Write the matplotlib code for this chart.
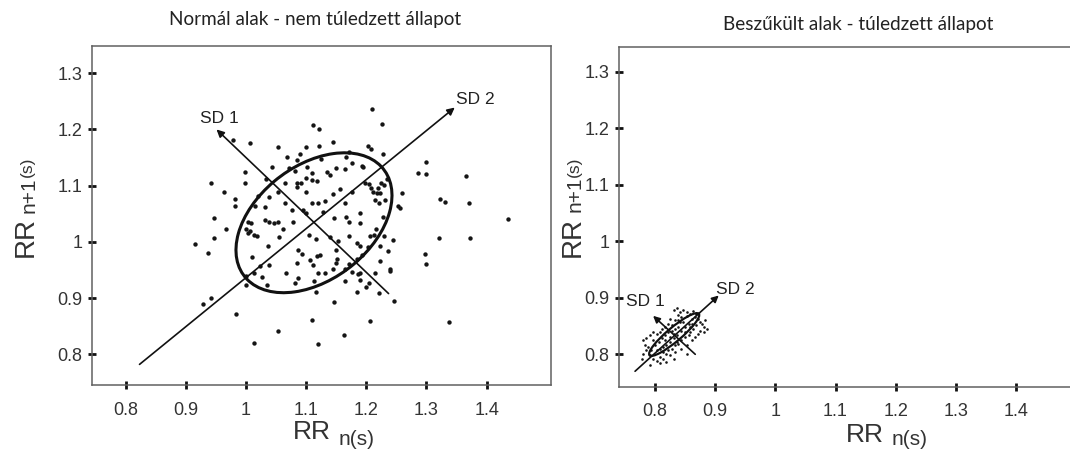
import matplotlib
matplotlib.use("Agg")
import matplotlib.pyplot as plt
from matplotlib.patches import Ellipse

# Poincare plot, normal state (left panel)
normal_x = [
    1.209, 1.111, 1.121, 1.226, 0.979, 1.007, 1.144, 1.054, 1.100, 1.122, 1.203, 1.207, 1.171,
    1.227, 1.300, 1.300, 0.998, 0.998, 0.942, 0.963, 0.981, 0.981, 1.286, 1.365, 1.322, 1.331,
    1.371, 1.435, 1.320, 1.373, 1.297, 1.300, 0.946, 0.966, 0.946, 0.915, 0.937, 0.928, 0.942,
    0.984, 1.013, 1.053, 1.110, 1.120, 1.163, 1.206, 1.338, 1.146, 1.246, 1.185, 1.221, 1.199,
    1.116, 1.259, 1.253, 1.256, 1.245, 1.236, 1.239, 1.239, 1.222, 1.187, 1.190,
    1.068, 1.089, 1.084, 1.102, 1.109, 1.100, 1.125, 1.135, 1.139, 1.150, 1.164, 1.177, 1.192,
    1.195, 1.166, 1.043, 1.071, 1.082, 1.065, 1.053, 1.038, 1.032, 1.064, 1.085, 1.092, 1.085,
    1.100, 1.110, 1.119, 1.131, 1.144, 1.118, 1.110, 1.157, 1.165, 1.176, 1.198, 1.205, 1.208,
    1.211, 1.219, 1.218, 1.225, 1.229, 1.234, 1.222, 1.231, 1.215, 1.221, 1.077, 1.094, 1.100,
    1.128, 1.147, 1.167, 1.189, 1.171, 1.190, 1.216, 1.212, 1.206, 1.185, 1.171, 1.153, 1.139,
    1.117, 1.105, 1.003, 1.008, 1.000, 1.003, 1.007, 1.014, 1.019, 1.032, 1.038, 1.046, 1.054,
    1.036, 1.055, 1.078, 1.061, 1.010, 1.024, 1.038, 1.014, 1.027, 1.035, 1.000, 1.000, 1.067,
    1.082, 1.086, 1.085, 1.087, 1.093, 1.107, 1.112, 1.118, 1.123, 1.119, 1.113, 1.132, 1.144,
    1.150, 1.151, 1.150, 1.165, 1.172, 1.193, 1.190, 1.202, 1.184, 1.165, 1.177, 1.190, 1.205,
    1.214, 1.222, 1.229, 1.228, 1.020, 1.015, 1.034,
]
normal_y = [
    1.237, 1.208, 1.200, 1.209, 1.182, 1.175, 1.177, 1.169, 1.169, 1.171, 1.171, 1.166, 1.159,
    1.157, 1.142, 1.120, 1.125, 1.104, 1.104, 1.088, 1.077, 1.063, 1.122, 1.117, 1.076, 1.071,
    1.070, 1.041, 1.006, 1.006, 0.979, 0.961, 1.043, 1.022, 1.006, 0.997, 0.981, 0.890, 0.900,
    0.871, 0.820, 0.841, 0.861, 0.818, 0.834, 0.860, 0.858, 0.893, 0.895, 0.910, 0.909, 0.920,
    0.911, 1.087, 1.063, 1.060, 1.003, 0.983, 0.951, 0.948, 0.966, 0.942, 0.933,
    1.151, 1.157, 1.145, 1.133, 1.122, 1.114, 1.148, 1.125, 1.119, 1.131, 1.130, 1.140, 1.135,
    1.134, 1.151, 1.134, 1.131, 1.126, 1.105, 1.088, 1.079, 1.062, 1.069, 1.105, 1.105, 1.098,
    1.088, 1.069, 1.070, 1.072, 1.086, 1.108, 1.110, 1.094, 1.069, 1.088, 1.105, 1.103, 1.095,
    1.088, 1.095, 1.087, 1.105, 1.102, 1.112, 1.087, 1.075, 1.075, 1.069, 1.057, 1.056, 1.051,
    1.054, 1.042, 1.045, 1.051, 1.036, 1.034, 1.023, 1.013, 1.010, 0.998, 1.010, 1.001, 1.009,
    1.005, 1.013, 1.036, 1.034, 1.022, 1.016, 1.019, 1.013, 1.010, 1.039, 1.036, 1.033, 1.035,
    0.992, 1.008, 1.035, 1.022, 0.973, 0.957, 0.959, 0.945, 0.938, 0.924, 0.924, 0.939, 0.944,
    0.926, 0.935, 0.963, 0.985, 0.979, 0.967, 0.959, 0.974, 0.977, 0.944, 0.930, 0.945, 0.952,
    0.963, 0.969, 0.986, 0.951, 0.961, 0.976, 0.992, 0.991, 0.969, 0.930, 0.947, 0.945, 0.927,
    0.945, 0.992, 1.010, 1.045, 1.081, 1.063, 1.111,
]

# Poincare plot, overtrained state (right panel)
over_x = [
    0.831, 0.836, 0.842, 0.847, 0.853, 0.858, 0.864, 0.839, 0.844, 0.853, 0.867, 0.872, 0.875,
    0.878, 0.881, 0.869, 0.861, 0.883, 0.886, 0.875, 0.864, 0.858, 0.850, 0.842, 0.833, 0.825,
    0.822, 0.828, 0.817, 0.811, 0.808, 0.803, 0.797, 0.792, 0.786, 0.781, 0.783, 0.789, 0.794,
    0.792, 0.797, 0.803, 0.808, 0.814, 0.819, 0.822, 0.828, 0.833, 0.839, 0.844, 0.850, 0.856,
    0.836, 0.831, 0.825, 0.819, 0.814, 0.808, 0.806, 0.811, 0.817, 0.822, 0.828, 0.833, 0.839,
    0.844, 0.850, 0.825, 0.831, 0.817, 0.800, 0.797, 0.803, 0.814, 0.825, 0.833, 0.786, 0.781,
    0.844, 0.853, 0.861, 0.867, 0.872, 0.881, 0.861, 0.856, 0.869, 0.839, 0.847, 0.858, 0.836,
    0.819, 0.808, 0.831, 0.853, 0.792, 0.778,
]
over_y = [
    0.878, 0.881, 0.875, 0.879, 0.875, 0.872, 0.876, 0.869, 0.866, 0.868, 0.866, 0.863, 0.857,
    0.854, 0.848, 0.851, 0.854, 0.860, 0.845, 0.842, 0.845, 0.839, 0.848, 0.857, 0.860, 0.863,
    0.854, 0.851, 0.848, 0.845, 0.839, 0.836, 0.839, 0.834, 0.828, 0.825, 0.816, 0.813, 0.807,
    0.798, 0.792, 0.789, 0.795, 0.792, 0.801, 0.807, 0.810, 0.816, 0.819, 0.825, 0.831, 0.834,
    0.834, 0.828, 0.822, 0.816, 0.813, 0.810, 0.822, 0.828, 0.834, 0.839, 0.842, 0.845, 0.848,
    0.842, 0.839, 0.831, 0.836, 0.825, 0.816, 0.825, 0.807, 0.804, 0.798, 0.804, 0.807, 0.801,
    0.810, 0.816, 0.825, 0.831, 0.836, 0.839, 0.863, 0.854, 0.872, 0.860, 0.857, 0.848, 0.822,
    0.786, 0.784, 0.792, 0.801, 0.781, 0.792,
]

tick_values = [0.8, 0.9, 1.0, 1.1, 1.2, 1.3, 1.4]
x_tick_labels = ["0.8", "0.9", "1", "1.1", "1.2", "1.3", "1.4"]
y_tick_labels = ["0.8", "0.9", "1", "1.1", "1.2", "1.3"]

titles = ["Normál alak - nem túledzett állapot", "Beszűkült alak - túledzett állapot"]

# ellipse: center x, center y, SD2 length, SD1 length, angle
normal_ellipse = (1.113, 1.034, 0.300, 0.198, 42)
over_ellipse = (0.832, 0.835, 0.110, 0.024, 42)

# axis arrows (tail, tip)
normal_sd2 = ((0.823, 0.782), (1.347, 1.239))
normal_sd1 = ((1.237, 0.908), (0.951, 1.200))
over_sd2 = ((0.767, 0.770), (0.906, 0.904))
over_sd1 = ((0.867, 0.800), (0.797, 0.868))

W, H = 1070, 454
TICK_FONT = "Liberation Sans"


def px(x, y):
    # pixel position (from top-left) -> figure fraction
    return x / W, 1 - y / H


def setup_axes(ax, xlim, ylim):
    ax.set_xlim(*xlim)
    ax.set_ylim(*ylim)
    ax.set_xticks(tick_values)
    ax.set_xticklabels(x_tick_labels)
    ax.set_yticks(tick_values[:6])
    ax.set_yticklabels(y_tick_labels)
    for s in ax.spines.values():
        s.set_color("#606060")
        s.set_linewidth(1.1)
    ax.tick_params(axis="both", direction="inout", length=6, width=2.0, color="#111111",
                   labelsize=13, labelcolor="#333333")
    ax.tick_params(axis="x", pad=9)
    ax.tick_params(axis="y", pad=4)
    for lab in ax.get_xticklabels() + ax.get_yticklabels():
        lab.set_fontfamily(TICK_FONT)


def draw_panel(ax, xs, ys, ell, sd1, sd2, dot_size, ell_lw, head):
    ax.scatter(xs, ys, s=dot_size, color="#151515", linewidths=0, zorder=2)
    e = Ellipse((ell[0], ell[1]), ell[2], ell[3], angle=ell[4], fill=False,
                edgecolor="#111111", linewidth=ell_lw, zorder=3)
    ax.add_patch(e)
    for tail, tip in (sd1, sd2):
        ax.annotate("", xy=tip, xytext=tail,
                    arrowprops=dict(arrowstyle="-|>", color="#111111", lw=1.2,
                                    mutation_scale=head, shrinkA=0, shrinkB=0),
                    zorder=4)


def add_labels(fig, rr_x, rr_base, sub_x, sub_base, y_x, y_rr, y_n, y_s):
    # x label: big RR followed by smaller n(s)
    fig.text(*px(rr_x, rr_base), "RR", fontsize=19, family=TICK_FONT, color="#333333",
             ha="left", va="baseline")
    fig.text(*px(sub_x, sub_base), "n(s)", fontsize=15, family=TICK_FONT, color="#333333",
             ha="left", va="baseline")
    # y label, rotated
    kw = dict(rotation=90, rotation_mode="anchor", ha="left", va="baseline",
              family=TICK_FONT, color="#333333")
    fig.text(*px(y_x, y_rr), "RR", fontsize=20, **kw)
    fig.text(*px(y_x + 1.5, y_n), "n+1", fontsize=15, **kw)
    fig.text(*px(y_x - 1, y_s), "(s)", fontsize=12.5, **kw)


def main():
    fig = plt.figure(figsize=(W / 100, H / 100), dpi=100)
    ax1 = fig.add_axes([92.3 / W, 1 - 385.3 / H, 458.7 / W, 339.6 / H])
    ax2 = fig.add_axes([619.4 / W, 1 - 386.7 / H, 458.7 / W, 340.0 / H])

    draw_panel(ax1, normal_x, normal_y, normal_ellipse, normal_sd1, normal_sd2, 10, 2.2, 11)
    draw_panel(ax2, over_x, over_y, over_ellipse, over_sd1, over_sd2, 3.5, 1.6, 10)

    setup_axes(ax1, (0.7445, 1.507), (0.7448, 1.349))
    setup_axes(ax2, (0.741, 1.503), (0.7427, 1.344))

    ax1.text(0.923, 1.220, "SD 1", fontsize=12.5, family=TICK_FONT, color="#222222", va="center")
    ax1.text(1.349, 1.2525, "SD 2", fontsize=12.5, family=TICK_FONT, color="#222222", va="center")
    ax2.text(0.752, 0.8936, "SD 1", fontsize=12.5, family=TICK_FONT, color="#222222", va="center")
    ax2.text(0.901, 0.9144, "SD 2", fontsize=12.5, family=TICK_FONT, color="#222222", va="center")

    fig.text(*px(315, 20), titles[0], fontsize=13.6, family="Lato", color="#222222",
             ha="center", va="center")
    fig.text(*px(858.6, 24.5), titles[1], fontsize=13.6, family="Lato", color="#222222",
             ha="center", va="center")

    add_labels(fig, 292.7, 439.3, 339, 444.7, 32.7, 256.7, 213.3, 176.7)
    add_labels(fig, 846, 441.7, 891.6, 445, 579.5, 257, 212, 176.7)

    fig.savefig("out.png", dpi=100)


if __name__ == "__main__":
    main()
